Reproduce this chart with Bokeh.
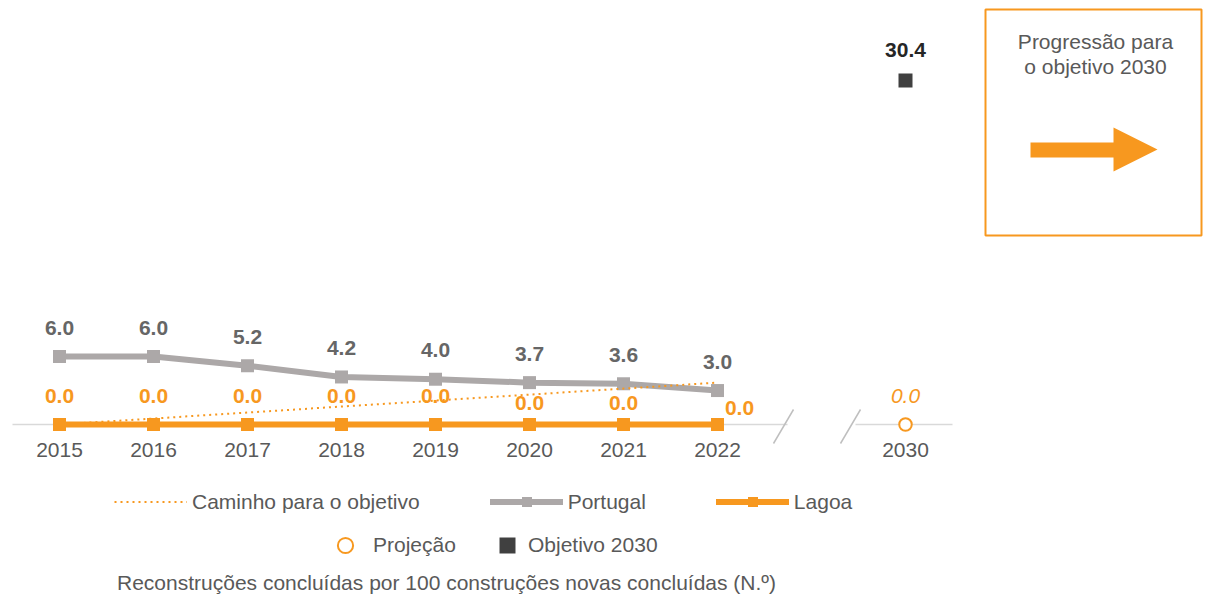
from bokeh.plotting import figure
from bokeh.models import Range1d, Legend, LegendItem, ColumnDataSource
from bokeh.embed import file_html
from bokeh.resources import INLINE
from bokeh.core.properties import value

# ---------------- data ----------------
years = ["2015", "2016", "2017", "2018", "2019", "2020", "2021", "2022"]
portugal = [6.0, 6.0, 5.2, 4.2, 4.0, 3.7, 3.6, 3.0]
lagoa = [0.0, 0.0, 0.0, 0.0, 0.0, 0.0, 0.0, 0.0]
path_years = ["2015", "2022"]
path_values = [0.0, 3.7]
target_year = "2030"
target_value = 30.4
projection_value = 0.0
tick_labels = ["2015", "2016", "2017", "2018", "2019", "2020", "2021", "2022", "2030"]

# ---------------- layout helpers ----------------
W, H = 1203, 596
XPX, X0P = 94.0, 59.0      # px per year-slot, canvas x of first slot
YPX, Y0P = 11.316, 424.0   # px per unit, canvas y of zero


def fx(cx):
    return (cx - X0P) / XPX


def fy(cy):
    return (Y0P - cy) / YPX


def slot(label):
    i = int(label) - 2015
    return i if i <= 7 else 9   # broken axis: 2030 after a gap


ORANGE = "#F7981F"
GRAY = "#ACA8A8"
TXT = "#595959"
FONT = value("Liberation Sans")

p = figure(width=W, height=H, x_range=Range1d(fx(0), fx(W)),
           y_range=Range1d(fy(H), fy(0)), output_backend="svg",
           toolbar_location=None, min_border=0, outline_line_color=None,
           x_axis_location=None, y_axis_location=None)
p.grid.visible = False
p.background_fill_color = "white"
p.border_fill_color = "white"

# baseline with break marks
p.line([slot("2015") - 0.5, fx(787)], [0, 0], line_color="#D9D9D9", line_width=1.5)
p.line([fx(855), slot("2030") + 0.5], [0, 0], line_color="#D9D9D9", line_width=1.5)
p.segment(x0=[fx(773), fx(840)], y0=[fy(443), fy(443)],
          x1=[fx(793), fx(860)], y1=[fy(409), fy(409)],
          line_color="#BFBFBF", line_width=1.5)

xs = [slot(y) for y in years]

# Portugal
src_pt = ColumnDataSource(dict(x=xs, y=portugal, t=["%.1f" % v for v in portugal]))
pt_line = p.line("x", "y", source=src_pt, line_color=GRAY, line_width=6,
                 line_join="round", line_cap="round")
pt_sq = p.scatter("x", "y", source=src_pt, marker="square", size=13,
                  fill_color=GRAY, line_color=None)
p.text("x", "y", text="t", source=src_pt, text_font=FONT, text_font_style="bold",
       text_font_size="21px", text_color="#666666", text_align="center",
       text_baseline="middle", y_offset=-29)

# path to objective
path_r = p.line([slot(y) for y in path_years], path_values, line_color=ORANGE,
                line_width=2, line_dash="2 4")

# Lagoa
lg_dx = [0, 0, 0, 0, 0, 0, 0, 22]
lg_dy = [-29, -29, -29, -29, -28.5, -21.5, -21.5, -16.5]
src_lg = ColumnDataSource(dict(x=xs, y=lagoa, t=["%.1f" % v for v in lagoa],
                               dx=lg_dx, dy=lg_dy))
lg_line = p.line("x", "y", source=src_lg, line_color=ORANGE, line_width=6,
                 line_join="round", line_cap="round")
lg_sq = p.scatter("x", "y", source=src_lg, marker="square", size=13,
                  fill_color=ORANGE, line_color=None)
p.text("x", "y", text="t", source=src_lg, text_font=FONT, text_font_style="bold",
       text_font_size="21px", text_color=ORANGE, text_align="center",
       text_baseline="middle", x_offset="dx", y_offset="dy")

# 2030 objective and projection
obj_r = p.scatter([slot(target_year)], [target_value], marker="square", size=14,
                  fill_color="#404040", line_color=None)
p.text([slot(target_year)], [target_value], text=["%.1f" % target_value],
       text_font=FONT, text_font_style="bold", text_font_size="21px",
       text_color="#262626", text_align="center", text_baseline="middle", y_offset=-30)
proj_r = p.scatter([slot(target_year)], [projection_value], marker="circle", size=12.5,
                   fill_color="white", line_color=ORANGE, line_width=2)
p.text([slot(target_year)], [projection_value], text=["%.1f" % projection_value],
       text_font=FONT, text_font_style="italic", text_font_size="21px",
       text_color=ORANGE, text_align="center", text_baseline="middle", y_offset=-29)

# tick labels
p.text([slot(t) for t in tick_labels], [0] * len(tick_labels), text=tick_labels,
       text_font=FONT, text_font_size="21px", text_color=TXT, text_align="center",
       text_baseline="middle", y_offset=25.5)

# progression box
p.quad(left=[fx(985)], right=[fx(1201)], top=[fy(9)], bottom=[fy(235)],
       fill_color=None, line_color=ORANGE, line_width=2)
p.text([fx(1095), fx(1095)], [fy(41), fy(66)], text=["Progressão para", "o objetivo 2030"],
       text_font=FONT, text_font_size="21px", text_color=TXT, text_align="center",
       text_baseline="middle")
p.patch([fx(1030), fx(1113), fx(1113), fx(1157), fx(1113), fx(1113), fx(1030)],
        [fy(142), fy(142), fy(127), fy(149), fy(171), fy(157), fy(157)],
        fill_color=ORANGE, line_color=None)

# footnote
p.text([fx(446)], [fy(582)],
       text=["Reconstruções concluídas por 100 construções novas concluídas (N.º)"],
       text_font=FONT, text_font_size="21px", text_color=TXT, text_align="center",
       text_baseline="alphabetic")

# legends
common = dict(orientation="horizontal", padding=0, margin=0, border_line_color=None,
              background_fill_alpha=0, label_text_font="Liberation Sans",
              label_text_font_size="21px", label_text_color=TXT)
leg1 = Legend(items=[LegendItem(label="Caminho para o objetivo", renderers=[path_r]),
                     LegendItem(label="Portugal", renderers=[pt_line, pt_sq]),
                     LegendItem(label="Lagoa", renderers=[lg_line, lg_sq])],
              location=(114, 82), glyph_width=73, glyph_height=25, label_height=25,
              label_standoff=5, spacing=70, **common)
leg2 = Legend(items=[LegendItem(label="Projeção", renderers=[proj_r])],
              location=(326, 32), glyph_width=38, glyph_height=38, label_height=38,
              label_standoff=9, spacing=0, **common)
leg3 = Legend(items=[LegendItem(label="Objetivo 2030", renderers=[obj_r])],
              location=(487, 31), glyph_width=40, glyph_height=40, label_height=40,
              label_standoff=1, spacing=0, **common)
for lg in (leg1, leg2, leg3):
    p.add_layout(lg)

open("out.html", "w").write(file_html(p, INLINE))
